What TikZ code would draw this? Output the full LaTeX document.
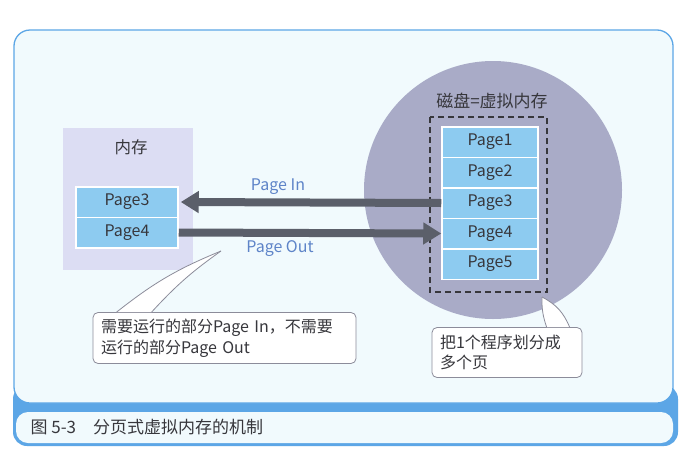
\documentclass[tikz,border=0pt]{standalone}
\usepackage{fontspec}
\setmainfont{Noto Sans CJK SC}
\usetikzlibrary{arrows.meta}
\definecolor{bandblue}{RGB}{92,166,230}
\definecolor{panelbg}{RGB}{241,250,253}
\definecolor{memfill}{RGB}{220,221,243}
\definecolor{diskfill}{RGB}{169,171,199}
\definecolor{pagefill}{RGB}{141,203,240}
\definecolor{arrowgray}{RGB}{91,95,106}
\definecolor{labelblue}{RGB}{94,132,200}
\definecolor{textgray}{RGB}{55,55,60}
\definecolor{notegray}{RGB}{140,140,154}
\begin{document}
\begin{tikzpicture}[x=1pt,y=-1pt,
    pagebox/.style={rectangle,fill=pagefill,draw=white,line width=1.5pt,minimum height=30.5,inner sep=0pt,text=textgray,font=\fontsize{16}{18}\selectfont},
    fatarrow/.style={line width=8pt,draw=arrowgray,-{Triangle[width=21pt,length=18pt]}},
    notebox/.style={rectangle,rounded corners=5pt,draw=notegray,fill=white,line width=0.8pt,inner xsep=8pt,inner ysep=0pt,align=left,text=textgray,font=\fontsize{16}{20.5}\selectfont},
    tail/.style={draw=notegray,line width=0.8pt}]
    \useasboundingbox[fill=white] (0,0) rectangle (699,461);
    % frame and caption bar
    \fill[bandblue,rounded corners=14pt] (13,385) rectangle (678,446);
    \draw[bandblue,fill=panelbg,line width=1.3pt,rounded corners=16pt] (14,30) rectangle (673,403);
    \fill[panelbg,rounded corners=12pt] (16,412) rectangle (673,443);
    \node[anchor=west,text=textgray,font=\fontsize{17}{18}\selectfont] (cap) at (27,427) {图 5-3\hspace{17pt}分页式虚拟内存的机制};
    % memory
    \fill[memfill] (63,128) rectangle (193,270);
    \node[text=textgray,font=\fontsize{16.5}{18}\selectfont] (mem) at (131,147) {内存};
    \node[pagebox,minimum width=102] (m3) at (127,202) {Page3};
    \node[pagebox,minimum width=102] (m4) at (127,232.5) {Page4};
    % disk
    \fill[diskfill] (493,190) circle (129);
    \node[text=textgray,font=\fontsize{17}{18}\selectfont] (disk) at (492,101) {磁盘=虚拟内存};
    \draw[textgray,line width=1.5pt,dash pattern=on 6pt off 4pt] (430,117) rectangle (547,292);
    \foreach \i/\y in {1/142,2/172.5,3/203,4/233.5,5/264}
      \node[pagebox,minimum width=96] (d\i) at (490,\y) {Page\i};
    % page in / page out
    \draw[fatarrow] (d3.west) -- ([xshift=2]m3.east);
    \draw[fatarrow] (m4.east) -- (d4.west);
    \node[text=labelblue,font=\fontsize{16}{18}\selectfont] (pin) at (278,187) {Page In};
    \node[text=labelblue,font=\fontsize{16}{18}\selectfont] (pout) at (280,249) {Page Out};
    % notes
    \node[notebox,minimum width=263,minimum height=51,text width=247] (note1) at (224.5,338) {需要运行的部分Page In，不需要\\运行的部分Page Out};
    \coordinate (tip1) at (221,251);
    \fill[white] ([xshift=24]note1.north west) to[bend left=8] (tip1) to[bend right=6] ([xshift=59]note1.north west) -- cycle;
    \draw[tail] ([xshift=24]note1.north west) to[bend left=8] (tip1);
    \draw[tail] ([xshift=59]note1.north west) to[bend left=6] (tip1);
    \node[notebox,minimum width=150,minimum height=50,text width=134] (note2) at (507,352.5) {把1个程序划分成\\多个页};
    \coordinate (tip2) at (542,297);
    \fill[white] ([xshift=115]note2.north west) to[bend left=10] (tip2) to[bend left=20] ([xshift=138]note2.north west) -- cycle;
    \draw[tail] ([xshift=115]note2.north west) to[bend left=10] (tip2);
    \draw[tail] ([xshift=138]note2.north west) to[bend right=20] (tip2);
\end{tikzpicture}
\end{document}
